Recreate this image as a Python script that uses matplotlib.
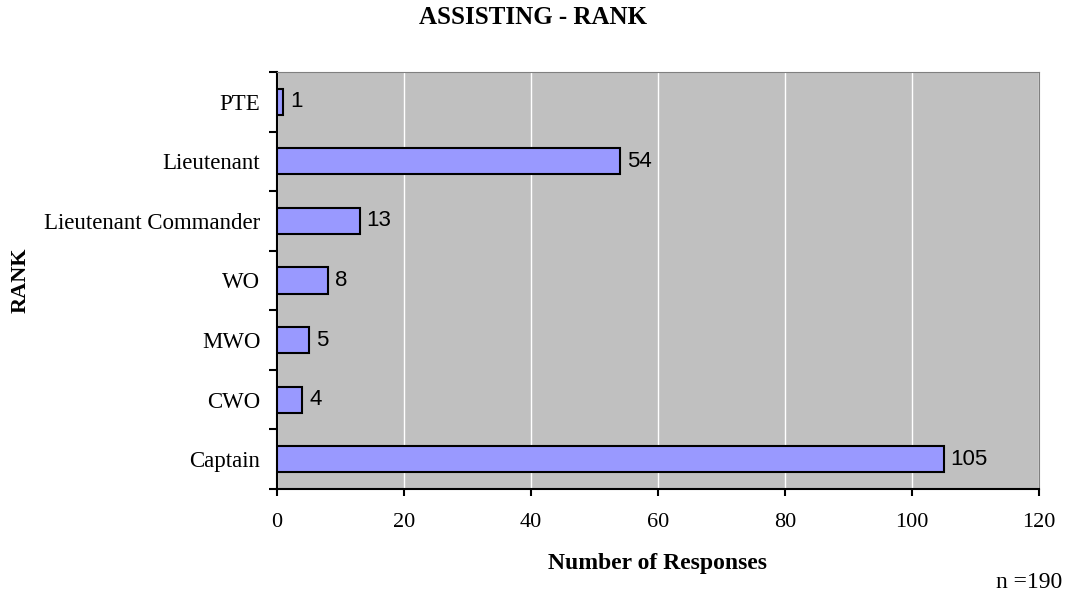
import numpy as np
import matplotlib
matplotlib.use("Agg")
import matplotlib.pyplot as plt

ranks = ["Captain", "CWO", "MWO", "WO", "Lieutenant Commander", "Lieutenant", "PTE"]
responses = [105, 4, 5, 8, 13, 54, 1]
sample_size = 190

serif = ["Liberation Serif", "DejaVu Serif"]
sans = ["Liberation Sans", "DejaVu Sans"]

fig = plt.figure(figsize=(10.65, 5.96), dpi=100)
# plot area in figure pixels: x 277..1039, y 72..489
ax = fig.add_axes([277 / 1065, 1 - 489 / 596, 762 / 1065, 417 / 596])
ax.set_facecolor("#C0C0C0")

y = np.arange(len(ranks))
ax.barh(y, responses, height=0.44, color="#9999FF", edgecolor="black", linewidth=1.5, zorder=3)

# value labels to the right of each bar
for yi, v in zip(y, responses):
    ax.text(v + 1.1, yi, str(v), va="center", ha="left", fontsize=16, family=sans, zorder=4)

ax.set_xlim(0, 120)
ax.set_ylim(-0.5, len(ranks) - 0.5)
ax.set_xticks(np.arange(0, 121, 20))
ax.set_yticks(y)
ax.set_yticklabels(ranks, fontsize=16.5, family=serif)
ax.set_yticks(np.arange(-0.5, len(ranks), 1), minor=True)
ax.tick_params(axis="y", which="major", length=0, pad=12)
ax.tick_params(axis="y", which="minor", length=5.5, width=1.5, direction="out")
ax.tick_params(axis="x", length=5, width=1.5, direction="out", pad=12)
for lbl in ax.get_xticklabels():
    lbl.set_fontsize(16)
    lbl.set_family(serif)

ax.grid(axis="x", color="white", linewidth=1, zorder=0)
ax.set_axisbelow(True)

ax.spines["left"].set_linewidth(1.5)
ax.spines["bottom"].set_linewidth(1.5)
ax.spines["top"].set_color("#808080")
ax.spines["right"].set_color("#808080")

fig.text(657 / 1065, 1 - 564 / 596, "Number of Responses", ha="center", va="center",
         fontsize=17, fontweight="bold", family=serif)
fig.text(21 / 1065, 1 - 280 / 596, "RANK", ha="center", va="center", rotation=90,
         fontsize=16, fontweight="bold", family=serif)
fig.text(533 / 1065, 1 - 18 / 596, "ASSISTING - RANK", ha="center", va="center", fontsize=18,
         fontweight="bold", family=serif)
fig.text(1062 / 1065, 1 - 583 / 596, f"n ={sample_size}", ha="right", va="center",
         fontsize=17, family=serif)

fig.savefig("out.png", dpi=100)
